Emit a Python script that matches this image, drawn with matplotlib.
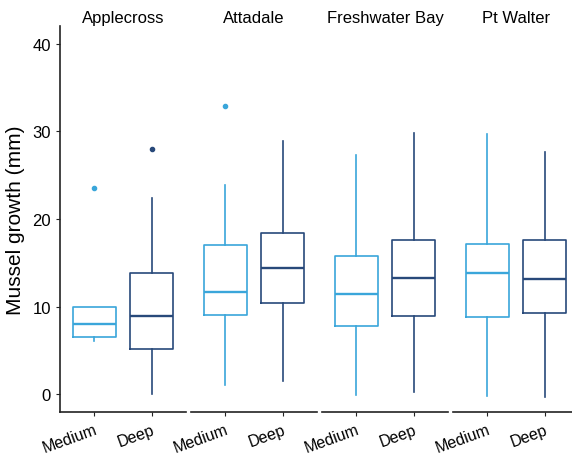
import matplotlib
matplotlib.use("Agg")
import matplotlib.pyplot as plt

plt.rcParams["font.family"] = ["Liberation Sans", "DejaVu Sans"]

sites = ["Applecross", "Attadale", "Freshwater Bay", "Pt Walter"]
depths = ["Medium", "Deep"]

# box statistics: [Medium, Deep] per site
q1 = [[6.5, 5.2], [9.1, 10.4], [7.8, 8.9], [8.8, 9.3]]
med = [[8.0, 9.0], [11.7, 14.4], [11.4, 13.3], [13.8, 13.2]]
q3 = [[10.0, 13.9], [17.0, 18.4], [15.8, 17.6], [17.2, 17.6]]
whislo = [[6.1, 0.0], [1.1, 1.5], [-0.1, 0.3], [-0.15, -0.3]]
whishi = [[10.0, 22.4], [23.9, 28.9], [27.3, 29.8], [29.7, 27.6]]
fliers = [[[23.5], [28.0]], [[32.9], []], [[], []], [[], []]]

colors = ["#3aa6da", "#28497a"]

fig = plt.figure(figsize=(5.72, 4.6), dpi=100)

left = 60 / 572
width = 126 / 572
gap = 5 / 572
bottom = 1 - 413 / 460
height = (413 - 27) / 460

for i, site in enumerate(sites):
    ax = fig.add_axes([left + i * (width + gap), bottom, width, height])
    stats = []
    for j in range(2):
        stats.append(dict(q1=q1[i][j], med=med[i][j], q3=q3[i][j],
                          whislo=whislo[i][j], whishi=whishi[i][j],
                          fliers=fliers[i][j], label=depths[j]))
    bp = ax.bxp(stats, positions=[1, 2], widths=0.75, showcaps=False,
                patch_artist=False)
    for j in range(2):
        c = colors[j]
        bp["boxes"][j].set(color=c, linewidth=1.2)
        bp["medians"][j].set(color=c, linewidth=1.7)
        for w in bp["whiskers"][2 * j:2 * j + 2]:
            w.set(color=c, linewidth=1.2)
        bp["fliers"][j].set(marker="o", markerfacecolor=c, markeredgecolor=c,
                            markersize=3)

    ax.set_xlim(0.4, 2.6)
    ax.set_ylim(-2, 42)
    ax.set_title(site, fontsize=12, pad=3)
    for s in ["top", "right"]:
        ax.spines[s].set_visible(False)
    ax.spines["bottom"].set_linewidth(1.2)
    ax.spines["bottom"].set_color("#222222")
    ax.set_xticks([1, 2])
    ax.set_xticklabels(depths, rotation=20, ha="right", rotation_mode="anchor",
                       fontsize=11.5)
    ax.tick_params(axis="x", length=3, pad=4, color="#222222")
    if i == 0:
        ax.spines["left"].set_linewidth(1.2)
        ax.spines["left"].set_color("#222222")
        ax.set_yticks([0, 10, 20, 30, 40])
        ax.tick_params(axis="y", length=3, labelsize=12, color="#222222")
        ax.set_ylabel("Mussel growth (mm)", fontsize=15, labelpad=5)
    else:
        ax.spines["left"].set_visible(False)
        ax.set_yticks([])

fig.savefig("out.png", dpi=100)
